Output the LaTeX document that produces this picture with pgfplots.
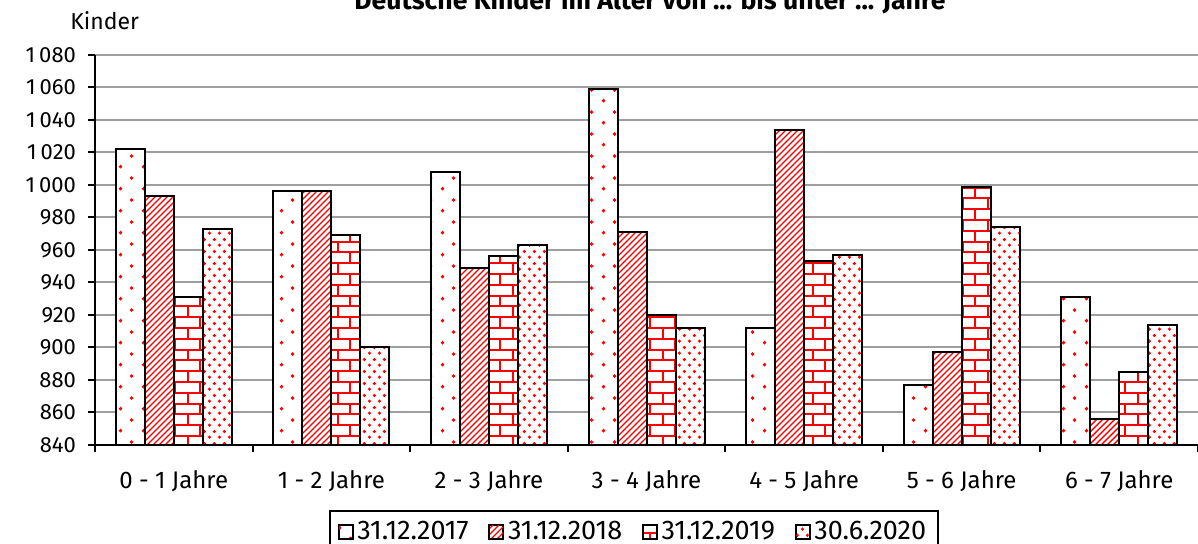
\documentclass[border=0pt]{standalone}
\usepackage{pgfplots}
\pgfplotsset{compat=1.18}
\usepackage{fontspec}
\setmainfont{Fira Sans}
\usetikzlibrary{patterns}

\pgfdeclarepatternformonly{sparsedots}{\pgfqpoint{0pt}{0pt}}{\pgfqpoint{11.5pt}{10.8pt}}{\pgfqpoint{11.5pt}{10.8pt}}{
  \pgfpathcircle{\pgfqpoint{2.875pt}{2.7pt}}{1pt}
  \pgfpathcircle{\pgfqpoint{8.625pt}{8.1pt}}{1pt}
  \pgfusepath{fill}
}
\pgfdeclarepatternformonly{densedots}{\pgfqpoint{0pt}{0pt}}{\pgfqpoint{5.2pt}{5.8pt}}{\pgfqpoint{5.2pt}{5.8pt}}{
  \pgfpathcircle{\pgfqpoint{1.3pt}{1.45pt}}{0.9pt}
  \pgfpathcircle{\pgfqpoint{3.9pt}{4.35pt}}{0.9pt}
  \pgfusepath{fill}
}
\pgfdeclarepatternformonly{mylines}{\pgfqpoint{-1pt}{-1pt}}{\pgfqpoint{4pt}{4pt}}{\pgfqpoint{3pt}{3pt}}{
  \pgfsetlinewidth{0.7pt}
  \pgfpathmoveto{\pgfqpoint{0pt}{0pt}}
  \pgfpathlineto{\pgfqpoint{3.1pt}{3.1pt}}
  \pgfusepath{stroke}
}
\pgfdeclarepatternformonly{mybricks}{\pgfqpoint{-0.5pt}{-0.5pt}}{\pgfqpoint{13pt}{11.3pt}}{\pgfqpoint{12.5pt}{10.8pt}}{
  \pgfsetlinewidth{1pt}
  \pgfpathmoveto{\pgfqpoint{-0.5pt}{0pt}}\pgfpathlineto{\pgfqpoint{13pt}{0pt}}
  \pgfpathmoveto{\pgfqpoint{-0.5pt}{5.4pt}}\pgfpathlineto{\pgfqpoint{13pt}{5.4pt}}
  \pgfpathmoveto{\pgfqpoint{0pt}{0pt}}\pgfpathlineto{\pgfqpoint{0pt}{5.4pt}}
  \pgfpathmoveto{\pgfqpoint{6.25pt}{5.4pt}}\pgfpathlineto{\pgfqpoint{6.25pt}{10.8pt}}
  \pgfusepath{stroke}
}

\pgfplotstableread{
x a b c d
0 1022 993 931 973
1 996 996 969 900
2 1008 949 956 963
3 1059 971 920 912
4 912 1034 953 957
5 877 897 999 974
6 931 856 885 914
}\datatable

\begin{document}
\fontsize{11.5}{13}\selectfont
\begin{tikzpicture}
\begin{axis}[
  at={(47.5pt,49.5pt)}, anchor=south west,
  scale only axis, width=551.5pt, height=195pt,
  xmin=-0.5, xmax=6.5, ymin=840, ymax=1080,
  ytick={840,860,880,900,920,940,960,980,1000,1020,1040,1060,1080},
  yticklabels={840,860,880,900,920,940,960,980,1\kern2pt000,1\kern2pt020,1\kern2pt040,1\kern2pt060,1\kern2pt080},
  xtick={0,...,6},
  xticklabels={0 - 1 Jahre,1 - 2 Jahre,2 - 3 Jahre,3 - 4 Jahre,4 - 5 Jahre,5 - 6 Jahre,6 - 7 Jahre},
  minor xtick={-0.5,0.5,...,6.5},
  axis x line*=bottom, axis y line*=left,
  axis line style={black, line width=1pt, -},
  tick align=outside,
  major tick length=3.5pt, minor tick length=3.5pt,
  major x tick style={draw=none},
  minor x tick style={black, line width=1pt},
  major y tick style={black, line width=1pt},
  ymajorgrids, grid style={gray!75, line width=1pt},
  xticklabel style={font=\fontsize{12}{13}\selectfont, yshift=-5pt},
  yticklabel style={font=\fontsize{11}{13}\selectfont, xshift=-2pt},
  ybar=0pt, bar width=14.5pt,
  every axis plot/.append style={draw=black, line width=1pt, preaction={fill=white}, pattern color=red},
  legend columns=4,
  legend style={at={(0.4887,-0.1667)}, anchor=north, draw=black, line width=0.8pt,
    font=\fontsize{13.5}{15}\selectfont, inner xsep=4pt, inner ysep=3pt,
    /tikz/every even column/.append style={column sep=8pt}},
  legend image code/.code={\draw[#1, line width=0.7pt] (0pt,-3.5pt) rectangle (7pt,3.5pt);},
  clip=false,
]
\addplot[pattern=sparsedots] table[x=x,y=a]{\datatable};
\addplot[pattern=mylines] table[x=x,y=b]{\datatable};
\addplot[pattern=mybricks] table[x=x,y=c]{\datatable};
\addplot[pattern=densedots] table[x=x,y=d]{\datatable};
\legend{31.12.2017,31.12.2018,31.12.2019,30.6.2020}
\end{axis}
\node[anchor=base, inner sep=0pt] at (325pt,267pt) {\fontsize{13.3}{15}\selectfont\bfseries Deutsche Kinder im Alter von ... bis unter ... Jahre};
\node[anchor=base west, inner sep=0pt] at (35pt,257pt) {Kinder};
\pgfresetboundingbox
\useasboundingbox (0,0) rectangle (599pt,272pt);
\end{tikzpicture}
\end{document}
